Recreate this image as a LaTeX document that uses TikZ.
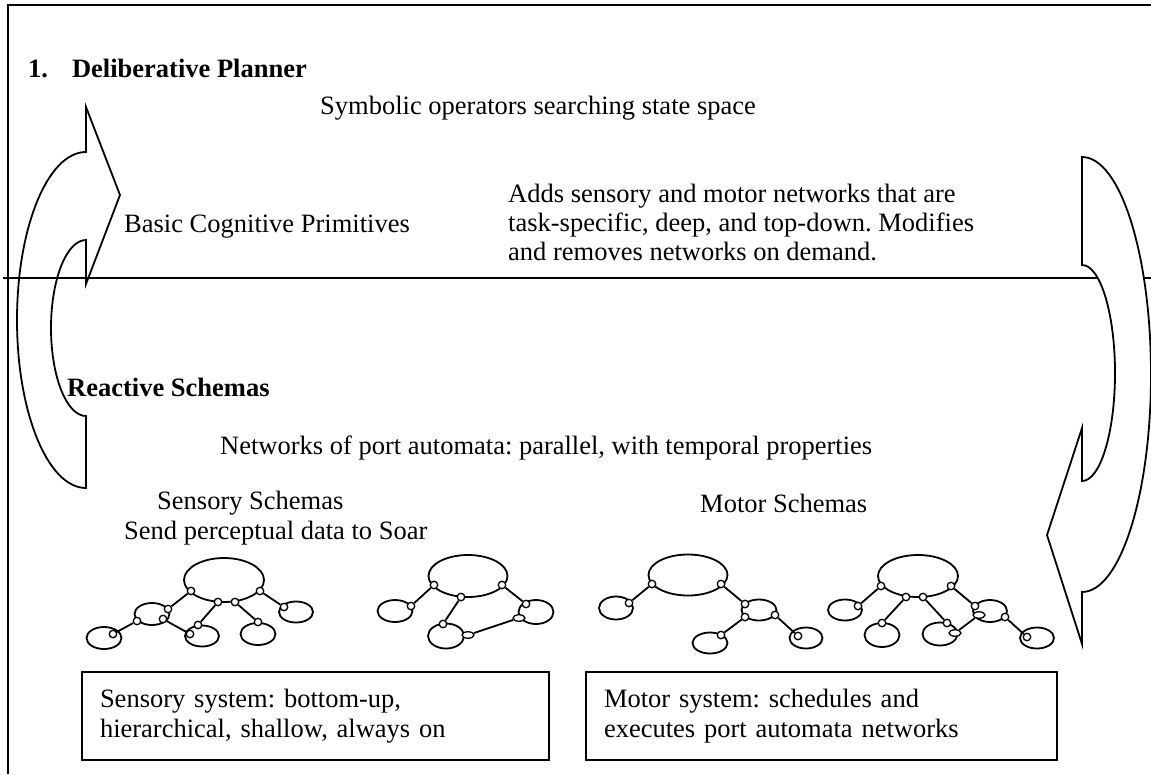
\documentclass[tikz,border=0pt]{standalone}
\usepackage{fontspec}
\setmainfont{Liberation Serif}
\frenchspacing
\usetikzlibrary{shapes.geometric}
\tikzstyle{txt} = [inner sep=0pt, font=\fontsize{26.5}{29}\selectfont]
\tikzstyle{heading} = [inner sep=0pt, font=\fontsize{26.5}{29}\selectfont\bfseries]
\tikzstyle{frame} = [line width=1.8pt]
\tikzstyle{bigarrow} = [draw, line width=1.8pt, line join=miter]
\tikzstyle{schema} = [ellipse, draw, line width=1.8pt, inner sep=0pt]
\tikzstyle{port} = [circle, draw, fill=white, line width=1.3pt, inner sep=0pt, minimum size=7.5pt]
\tikzstyle{flatport} = [ellipse, draw, fill=white, line width=1.3pt, inner sep=0pt, minimum width=12pt, minimum height=6.5pt]
\tikzstyle{link} = [line width=1.8pt]
\tikzstyle{sysbox} = [rectangle, draw, line width=1.8pt, inner xsep=18pt, minimum height=88pt, align=left, font=\fontsize{26.5}{30}\selectfont]

\begin{document}
\begin{tikzpicture}[x=1pt, y=-1pt]
    \useasboundingbox (0,0) rectangle (1151,774);

    % curved block arrow up to the planner (sits behind the divider)
    \draw[bigarrow] (86,152) arc[start angle=270, end angle=90, x radius=69, y radius=168]
        -- (86,416) arc[start angle=90, end angle=270, x radius=35, y radius=88]
        -- (86,284) -- (120,195) -- (86,107) -- cycle;

    % outer frame and layer divider
    \draw[frame] (8,774) -- (8,5) -- (1151,5);
    \draw[frame] (3,278) -- (1151,278);

    % curved block arrow down to the schemas (covers the divider)
    \draw[bigarrow, fill=white] (1082,157) arc[start angle=-90, end angle=90, x radius=69, y radius=217.5]
        -- (1082,644) -- (1047,535) -- (1082,428) -- (1082,481)
        arc[start angle=90, end angle=-90, x radius=33, y radius=108] -- cycle;

    % deliberative layer
    \node[heading, anchor=west] (plannertitle) at (28,68) {1.\hspace{24pt}Deliberative Planner};
    \node[txt] (symbolic) at (538,108) {Symbolic operators searching state space};
    \node[txt, anchor=west] (primitives) at (124,227) {Basic Cognitive Primitives};
    \node[txt, anchor=west, align=left] (adds) at (508,222) {Adds sensory and motor networks that are\\task-specific, deep, and top-down. Modifies\\and removes networks on demand.};

    % reactive layer
    \node[heading, anchor=west] (reactivetitle) at (67,387) {Reactive Schemas};
    \node[txt, anchor=west] (automata) at (220,448) {Networks of port automata: parallel, with temporal properties};
    \node[txt, anchor=west] (sensorytitle) at (157,503) {Sensory Schemas};
    \node[txt, anchor=west] (sendsoar) at (124,533) {Send perceptual data to Soar};
    \node[txt, anchor=west] (motortitle) at (700,503) {Motor Schemas};

    % sensory network 1
    \node[schema, minimum width=80pt, minimum height=44pt] (s1top) at (224,580) {};
    \node[schema, minimum width=35pt, minimum height=22pt] (s1a) at (152,614) {};
    \node[schema, minimum width=35pt, minimum height=22pt] (s1b) at (104,638) {};
    \node[schema, minimum width=34pt, minimum height=21pt] (s1c) at (202,636) {};
    \node[schema, minimum width=35pt, minimum height=22pt] (s1d) at (258,634) {};
    \node[schema, minimum width=34pt, minimum height=21pt] (s1e) at (296,612) {};
    \node[port] (s1p1) at (191,591) {};
    \node[port] (s1p2) at (218,602) {};
    \node[port] (s1p3) at (235,602) {};
    \node[port] (s1p4) at (260,591) {};
    \node[port] (s1a1) at (168,609) {};
    \node[port] (s1a2) at (137,621) {};
    \node[port] (s1a3) at (163,619) {};
    \node[port] (s1b1) at (113,634) {};
    \node[port] (s1c1) at (198,625) {};
    \node[port] (s1c2) at (190,634) {};
    \node[port] (s1d1) at (258,622) {};
    \node[port] (s1e1) at (284,607) {};
    \draw[link] (s1p1) -- (s1a1);
    \draw[link] (s1a2) -- (s1b1);
    \draw[link] (s1a3) -- (s1c2);
    \draw[link] (s1p2) -- (s1c1);
    \draw[link] (s1p3) -- (s1d1);
    \draw[link] (s1p4) -- (s1e1);

    % sensory network 2
    \node[schema, minimum width=79pt, minimum height=42pt] (s2top) at (468,576) {};
    \node[schema, minimum width=35pt, minimum height=22pt] (s2a) at (395,611) {};
    \node[schema, minimum width=36pt, minimum height=25pt] (s2b) at (446,636) {};
    \node[schema, minimum width=35pt, minimum height=24pt] (s2c) at (536,612) {};
    \node[port] (s2p1) at (434,585) {};
    \node[port] (s2p2) at (461,597) {};
    \node[port] (s2p3) at (502,585) {};
    \node[port] (s2a1) at (411,606) {};
    \node[port] (s2b1) at (443,624) {};
    \node[flatport] (s2b2) at (468,635) {};
    \node[port] (s2c1) at (526,604) {};
    \node[flatport] (s2c2) at (519,618) {};
    \draw[link] (s2p1) -- (s2a1);
    \draw[link] (s2p2) -- (s2b1);
    \draw[link] (s2p3) -- (s2c1);
    \draw[link] (s2b2) -- (s2c2);

    % motor network 1
    \node[schema, minimum width=79pt, minimum height=41pt] (m1top) at (688,575) {};
    \node[schema, minimum width=34pt, minimum height=23pt] (m1a) at (616,608) {};
    \node[schema, minimum width=35pt, minimum height=21pt] (m1b) at (759,610) {};
    \node[schema, minimum width=35pt, minimum height=21pt] (m1c) at (710,643) {};
    \node[schema, minimum width=33pt, minimum height=21pt] (m1d) at (806,638) {};
    \node[port] (m1p1) at (652,584) {};
    \node[port] (m1p2) at (721,584) {};
    \node[port] (m1a1) at (629,603) {};
    \node[port] (m1b1) at (745,604) {};
    \node[port] (m1b2) at (745,617) {};
    \node[port] (m1b3) at (775,615) {};
    \node[port] (m1c1) at (721,635) {};
    \node[port] (m1d1) at (798,636) {};
    \draw[link] (m1p1) -- (m1a1);
    \draw[link] (m1p2) -- (m1b1);
    \draw[link] (m1b2) -- (m1c1);
    \draw[link] (m1b3) -- (m1d1);

    % motor network 2
    \node[schema, minimum width=80pt, minimum height=42pt] (m2top) at (918,576) {};
    \node[schema, minimum width=34pt, minimum height=21pt] (m2a) at (845,610) {};
    \node[schema, minimum width=35pt, minimum height=24pt] (m2b) at (882,635) {};
    \node[schema, minimum width=35pt, minimum height=23pt] (m2c) at (940,634) {};
    \node[schema, minimum width=34pt, minimum height=22pt] (m2d) at (990,611) {};
    \node[schema, minimum width=34pt, minimum height=21pt] (m2e) at (1037,638) {};
    \node[port] (m2p1) at (881,586) {};
    \node[port] (m2p2) at (906,597) {};
    \node[port] (m2p3) at (923,597) {};
    \node[port] (m2p4) at (951,586) {};
    \node[port] (m2a1) at (858,606) {};
    \node[port] (m2b1) at (882,623) {};
    \node[port] (m2c1) at (947,623) {};
    \node[flatport] (m2c2) at (955,633) {};
    \node[port] (m2d1) at (975,606) {};
    \node[flatport] (m2d2) at (979,615) {};
    \node[port] (m2d3) at (1005,617) {};
    \node[port] (m2e1) at (1027,637) {};
    \draw[link] (m2p1) -- (m2a1);
    \draw[link] (m2p2) -- (m2b1);
    \draw[link] (m2p3) -- (m2c1);
    \draw[link] (m2p4) -- (m2d1);
    \draw[link] (m2d2) -- (m2c2);
    \draw[link] (m2d3) -- (m2e1);

    % system boxes
    \node[sysbox, minimum width=467pt, text width=431pt] (sensorybox) at (315.5,716) {Sensory system: bottom-up,\\hierarchical, shallow, always on};
    \node[sysbox, minimum width=471pt, text width=435pt] (motorbox) at (821.5,716) {Motor system: schedules and\\executes port automata networks};
\end{tikzpicture}
\end{document}
